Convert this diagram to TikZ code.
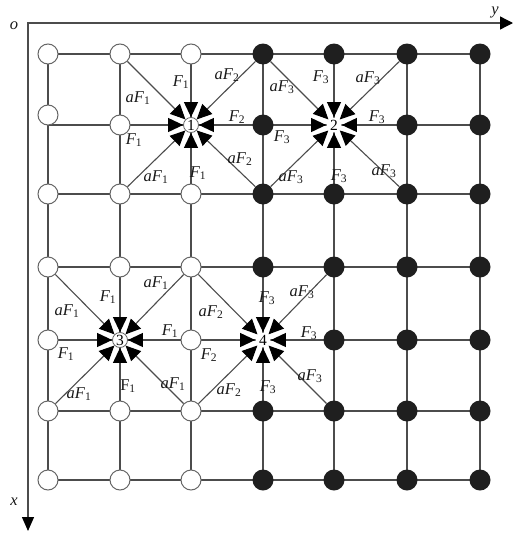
\documentclass[tikz,border=0pt]{standalone}
\usepackage{fontspec}
\setmainfont{Liberation Serif}
\usetikzlibrary{arrows.meta,backgrounds}
\newcommand{\lbl}[2]{\textit{#1}\textsubscript{#2}}
\begin{document}
\begin{tikzpicture}[x=1pt,y=-1pt,
  gridline/.style={draw=black!70,line width=1.1pt},
  axisline/.style={draw=black!70,line width=1.3pt},
  wnode/.style={circle,draw=black!60,fill=white,line width=1pt,minimum size=20pt,inner sep=0pt},
  bnode/.style={circle,fill=black!88,minimum size=21pt,inner sep=0pt},
  snode/.style={circle,fill=white,draw=black!60,line width=0.8pt,minimum size=15pt,inner sep=0pt,font=\fontsize{15.5}{15}\selectfont},
  arr/.style={draw=black!70,line width=1.1pt,-{Triangle[length=15pt,width=14pt,color=black,fill=black]}},
  lab/.style={font=\fontsize{16.5}{18}\selectfont,inner sep=0pt,text=black!90},
]
\useasboundingbox (0,0) rectangle (514,533);
% grid coordinates
\foreach \c/\x in {1/48,2/120,3/191,4/263,5/334,6/407,7/480}{
  \foreach \r/\y in {1/54,2/125,3/194,4/267,5/340,6/411,7/480}{
    \coordinate (p-\r-\c) at (\x,\y);
  }}
% ordinary nodes
\foreach \r in {1,...,7}{
  \foreach \c in {1,...,7}{
    \pgfmathtruncatemacro{\sp}{and(\r==2,or(\c==3,\c==5)) + and(\r==5,or(\c==2,\c==4))}
    \pgfmathsetmacro{\dy}{and(\r==2,\c==1)*10}
    \ifnum\sp=0
      \ifnum\c<4
        \node[wnode,yshift=\dy pt] (n-\r-\c) at (p-\r-\c) {};
      \else
        \node[bnode] (n-\r-\c) at (p-\r-\c) {};
      \fi
    \fi
  }}
% special nodes
\node[snode] (s1) at (p-2-3) {1};
\node[snode,draw=none] (s2) at (p-2-5) {2};
\node[snode] (s3) at (p-5-2) {3};
\node[snode,draw=none] (s4) at (p-5-4) {4};
% grid lines
\begin{scope}[on background layer]
  \foreach \r in {1,...,7}{
    \foreach \c/\d in {1/2,2/3,3/4,4/5,5/6,6/7}{
      \draw[gridline] (p-\r-\c) -- (p-\r-\d);
      \draw[gridline] (p-\c-\r) -- (p-\d-\r);
    }}
\end{scope}
% arrows into the special nodes
\foreach \s/\r/\c in {s1/2/3,s2/2/5,s3/5/2,s4/5/4}{
  \foreach \dr/\dc in {-1/-1,-1/0,-1/1,0/-1,0/1,1/-1,1/0,1/1}{
    \pgfmathtruncatemacro{\rr}{\r+\dr}
    \pgfmathtruncatemacro{\cc}{\c+\dc}
    \draw[arr] (n-\rr-\cc) -- (\s);
  }}
% axes
\coordinate (o) at (28,23);
\coordinate (yend) at (513,23);
\coordinate (xend) at (28,531);
\draw[axisline,{Triangle[length=13pt,width=13pt,color=black,fill=black]}-{Triangle[length=14pt,width=12pt,color=black,fill=black]}] (yend) -- (o) -- (xend);
\node[lab] (olab) at (14,26) {\textit{o}};
\node[lab] (ylab) at (495,12) {\textit{y}};
\node[lab] (xlab) at (14,502) {\textit{x}};
% labels around node 1
\node[lab] (l1a) at (181,82) {\lbl{F}{1}};
\node[lab] (l1b) at (227,75) {\lbl{aF}{2}};
\node[lab] (l1c) at (138,98) {\lbl{aF}{1}};
\node[lab] (l1d) at (237,117) {\lbl{F}{2}};
\node[lab] (l1e) at (134,140) {\lbl{F}{1}};
\node[lab] (l1f) at (156,177) {\lbl{aF}{1}};
\node[lab] (l1g) at (198,173) {\lbl{F}{1}};
\node[lab] (l1h) at (240,159) {\lbl{aF}{2}};
% labels around node 2
\node[lab] (l2a) at (321,77) {\lbl{F}{3}};
\node[lab] (l2b) at (282,87) {\lbl{aF}{3}};
\node[lab] (l2c) at (368,78) {\lbl{aF}{3}};
\node[lab] (l2d) at (377,117) {\lbl{F}{3}};
\node[lab] (l2e) at (282,137) {\lbl{F}{3}};
\node[lab] (l2f) at (291,177) {\lbl{aF}{3}};
\node[lab] (l2g) at (339,176) {\lbl{F}{3}};
\node[lab] (l2h) at (384,171) {\lbl{aF}{3}};
% labels around node 3
\node[lab] (l3a) at (67,311) {\lbl{aF}{1}};
\node[lab] (l3b) at (108,297) {\lbl{F}{1}};
\node[lab] (l3c) at (156,283) {\lbl{aF}{1}};
\node[lab] (l3d) at (170,331) {\lbl{F}{1}};
\node[lab] (l3e) at (66,354) {\lbl{F}{1}};
\node[lab] (l3f) at (79,394) {\lbl{aF}{1}};
\node[lab] (l3g) at (128,386) {F\textsubscript{1}};
\node[lab] (l3h) at (173,384) {\lbl{aF}{1}};
% labels around node 4
\node[lab] (l4a) at (211,312) {\lbl{aF}{2}};
\node[lab] (l4b) at (209,355) {\lbl{F}{2}};
\node[lab] (l4c) at (229,390) {\lbl{aF}{2}};
\node[lab] (l4d) at (267,298) {\lbl{F}{3}};
\node[lab] (l4e) at (302,292) {\lbl{aF}{3}};
\node[lab] (l4f) at (309,333) {\lbl{F}{3}};
\node[lab] (l4g) at (310,376) {\lbl{aF}{3}};
\node[lab] (l4h) at (268,387) {\lbl{F}{3}};
\end{tikzpicture}
\end{document}
